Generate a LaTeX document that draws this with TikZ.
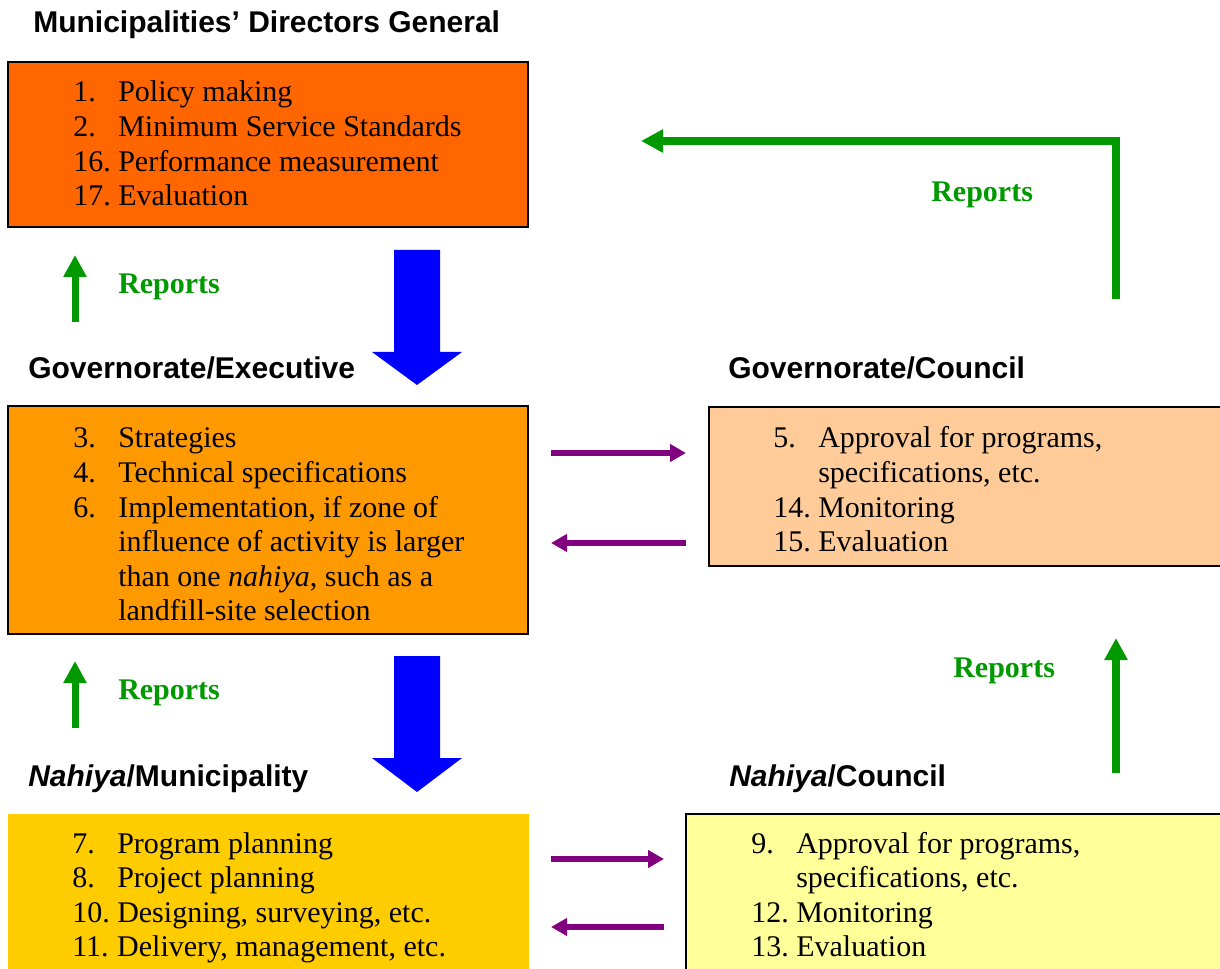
\documentclass[tikz,border=0pt]{standalone}
\usepackage{fontspec}
\setmainfont{Liberation Serif}
\setsansfont{Liberation Sans}
\usetikzlibrary{arrows.meta}
\definecolor{repgreen}{HTML}{009900}
\definecolor{arrpurple}{HTML}{800080}
\definecolor{arrblue}{HTML}{0000FF}
\definecolor{cone}{HTML}{FF6600}
\definecolor{ctwo}{HTML}{FF9900}
\definecolor{cthree}{HTML}{FFCC99}
\definecolor{cfour}{HTML}{FFCC00}
\definecolor{cfive}{HTML}{FFFF99}
\newcommand\itm[2]{\hbox{\makebox[33.75pt][l]{#1}#2}}
\newcommand\cnt[1]{\hbox{\hspace{33.75pt}#1}}
\begin{document}
\begin{tikzpicture}[x=0.75pt,y=-0.75pt,
  box/.style={draw=black,line width=1.5pt,inner sep=0pt,outer sep=0pt,anchor=north west},
  body/.style={anchor=base west,inner sep=0pt,font=\fontsize{22.5}{25.95}\selectfont},
  head/.style={anchor=base west,inner sep=0pt,font=\sffamily\bfseries\fontsize{22.5}{27}\selectfont},
  rep/.style={anchor=base west,inner sep=0pt,text=repgreen,font=\bfseries\fontsize{22.5}{27}\selectfont},
  greenarrow/.style={draw=repgreen,line width=5.25pt,-{Triangle[length=16.5pt,width=16.5pt]}},
  purplearrow/.style={draw=arrpurple,line width=4.1pt,-{Triangle[length=12pt,width=12.75pt]}},
  bluearrow/.style={fill=arrblue}]

\useasboundingbox (0,0) rectangle (1220,969);

% boxes
\node[box,fill=cone,minimum width=390pt,minimum height=123.75pt] (b1) at (8,62) {};
\node[box,fill=ctwo,minimum width=390pt,minimum height=171pt] (b2) at (8,406) {};
\node[box,fill=cthree,minimum width=398.25pt,minimum height=119.25pt] (b3) at (709,407) {};
\node[box,draw=none,fill=cfour,minimum width=390.75pt,minimum height=132pt] (b4) at (8,814) {};
\node[box,fill=cfive,minimum width=415.5pt,minimum height=132pt] (b5) at (686,814) {};

% headings
\node[head] (h1) at (33,33) {Municipalities’ Directors General};
\node[head] (h2) at (28,379) {Governorate/Executive};
\node[head] (h3) at (728,379) {Governorate/Council};
\node[head] (h4) at (28,786) {\textit{Nahiya}/Municipality};
\node[head] (h5) at (729,786) {\textit{Nahiya}/Council};

% box texts
\node[body] (t1) at (73,102) {\vtop{\itm{1.}{Policy making}\itm{2.}{Minimum Service Standards}\itm{16.}{Performance measurement}\itm{17.}{Evaluation}}};
\node[body] (t2) at (73,448) {\vtop{\itm{3.}{Strategies}\itm{4.}{Technical specifications}\itm{6.}{Implementation, if zone of}\cnt{influence of activity is larger}\cnt{than one \textit{nahiya}, such as a}\cnt{landfill-site selection}}};
\node[body] (t3) at (773,448) {\vtop{\itm{5.}{Approval for programs,}\cnt{specifications, etc.}\itm{14.}{Monitoring}\itm{15.}{Evaluation}}};
\node[body] (t4) at (72,853) {\vtop{\itm{7.}{Program planning}\itm{8.}{Project planning}\itm{10.}{Designing, surveying, etc.}\itm{11.}{Delivery, management, etc.}}};
\node[body] (t5) at (751,853) {\vtop{\itm{9.}{Approval for programs,}\cnt{specifications, etc.}\itm{12.}{Monitoring}\itm{13.}{Evaluation}}};

% reports labels
\node[rep] (r1) at (931,202) {Reports};
\node[rep] (r2) at (118,294) {Reports};
\node[rep] (r3) at (118,699) {Reports};
\node[rep] (r4) at (953,677) {Reports};

% green arrows
\coordinate (ga1s) at (75,322); \coordinate (ga1e) at (75,255);
\coordinate (ga2s) at (75,728); \coordinate (ga2e) at (75,661);
\coordinate (ga3s) at (1116,773); \coordinate (ga3e) at (1116,638);
\coordinate (ga4s) at (1116,299); \coordinate (ga4e) at (641,141);
\draw[greenarrow] (ga1s) -- (ga1e);
\draw[greenarrow] (ga2s) -- (ga2e);
\draw[greenarrow,line width=6pt] (ga3s) -- (ga3e);
\draw[greenarrow,line width=6pt] (ga4s) |- (ga4e);

% purple arrows
\coordinate (p1s) at (551,453); \coordinate (p1e) at (686,453);
\coordinate (p2s) at (686,543); \coordinate (p2e) at (551,543);
\coordinate (p3s) at (551,859); \coordinate (p3e) at (664,859);
\coordinate (p4s) at (664,927); \coordinate (p4e) at (551,927);
\draw[purplearrow] (p1s) -- (p1e);
\draw[purplearrow] (p2s) -- (p2e);
\draw[purplearrow] (p3s) -- (p3e);
\draw[purplearrow] (p4s) -- (p4e);

% blue block arrows
\fill[bluearrow] (394,250) -- (440,250) -- (440,352) -- (462,352) -- (417,385) -- (372,352) -- (394,352) -- cycle;
\fill[bluearrow] (394,656) -- (440,656) -- (440,758) -- (462,758) -- (417,792) -- (372,758) -- (394,758) -- cycle;
\end{tikzpicture}
\end{document}
